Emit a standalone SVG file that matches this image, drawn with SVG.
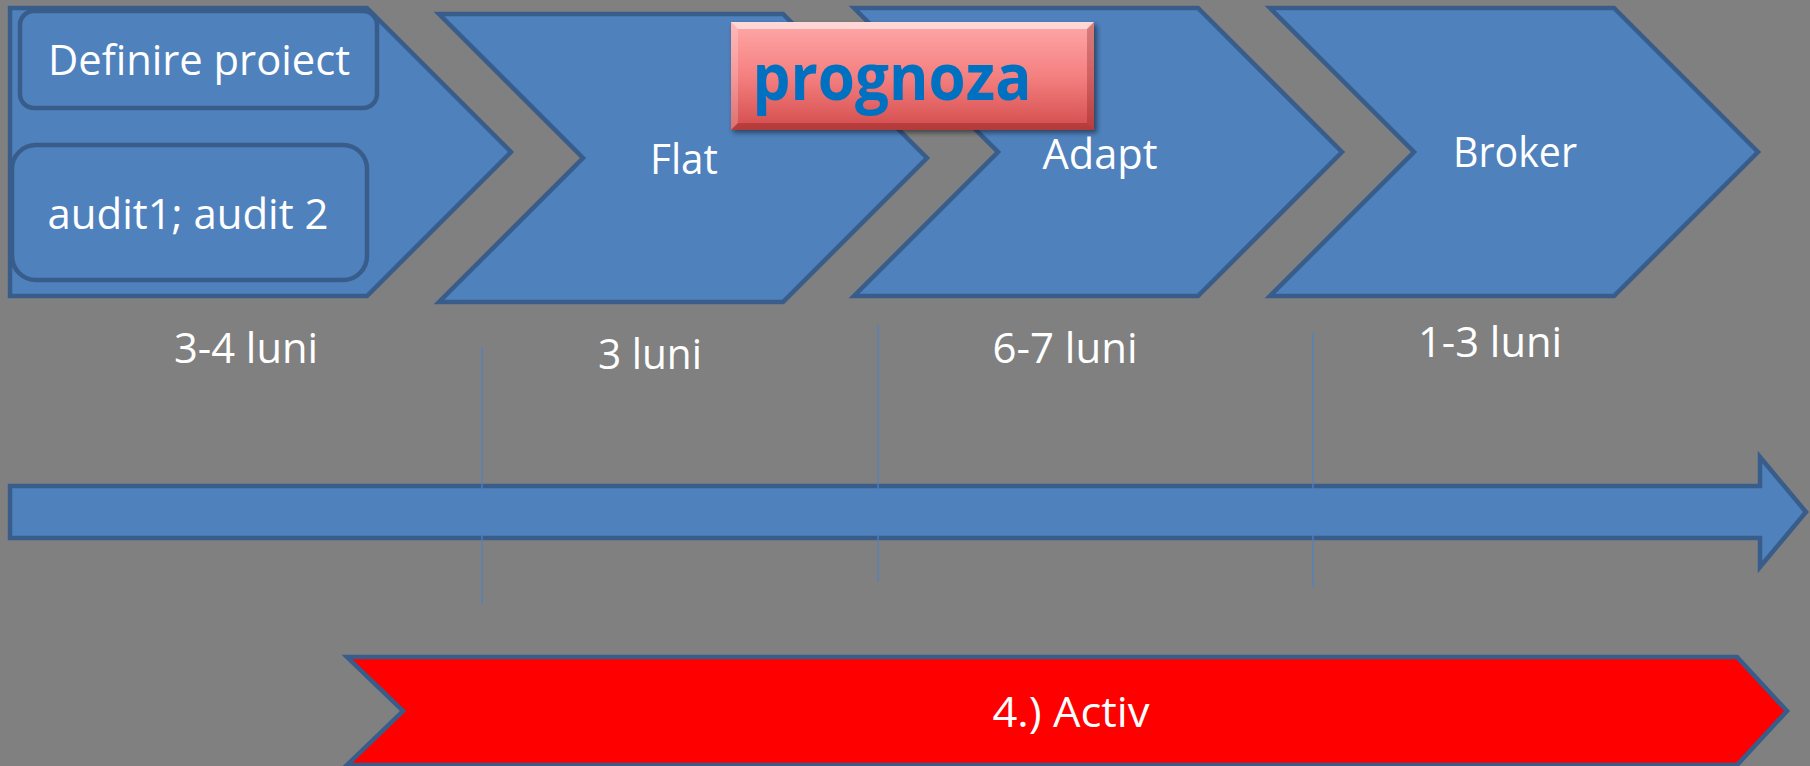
<svg xmlns="http://www.w3.org/2000/svg" width="1810" height="766" viewBox="0 0 1810 766">
<defs>
<style>
.chev{fill:#4f81bd;stroke:#385d8a;stroke-width:4.5;stroke-linejoin:miter}
.sub{fill:#4f81bd;stroke:#385d8a;stroke-width:4.5}
.t{font-family:"Open Sans","Liberation Sans",sans-serif;font-size:42px;fill:#ffffff}
.vl{stroke:#4f81bd;stroke-width:1.3}
.pg{font-family:"Open Sans","Liberation Sans",sans-serif;font-weight:bold;font-size:64px;fill:#0070c0}
</style>
<linearGradient id="red" x1="0" y1="0" x2="0" y2="1">
<stop offset="0" stop-color="#ffa8a8"/>
<stop offset="0.5" stop-color="#f48080"/>
<stop offset="1" stop-color="#d44c4c"/>
</linearGradient>
<filter id="sh" x="-10%" y="-10%" width="120%" height="130%">
<feGaussianBlur stdDeviation="2.5"/>
</filter>
</defs>
<rect x="0" y="0" width="1810" height="766" fill="#808080"/>

<g id="step1">
<polygon class="chev" points="10,8 367,8 511,152 367,296 10,296"/>
<g id="definire">
<rect class="sub" x="20" y="11" width="357" height="97" rx="14"/>
<text class="t" x="199" y="75" text-anchor="middle" textLength="302" lengthAdjust="spacingAndGlyphs">Definire proiect</text>
</g>
<g id="audit">
<rect class="sub" x="12" y="145" width="355" height="135" rx="24"/>
<text class="t" x="188" y="229" text-anchor="middle" textLength="281" lengthAdjust="spacingAndGlyphs">audit1; audit 2</text>
</g>
</g>

<g id="flat">
<polygon class="chev" points="439,14 783,14 927,158 783,302 439,302 583,158"/>
<text class="t" x="684" y="174" text-anchor="middle" textLength="68" lengthAdjust="spacingAndGlyphs">Flat</text>
</g>

<g id="adapt">
<polygon class="chev" points="854,8 1198,8 1342,152 1198,296 854,296 998,152"/>
<text class="t" x="1100" y="169" text-anchor="middle" textLength="115" lengthAdjust="spacingAndGlyphs">Adapt</text>
</g>

<g id="broker">
<polygon class="chev" points="1270,8 1614,8 1758,152 1614,296 1270,296 1414,152"/>
<text class="t" x="1515" y="167" text-anchor="middle" textLength="124" lengthAdjust="spacingAndGlyphs">Broker</text>
</g>

<g id="prognoza">
<rect x="733" y="25" width="364" height="108" fill="#000" opacity="0.45" filter="url(#sh)"/>
<rect x="731" y="22" width="363" height="108" fill="url(#red)"/>
<polygon points="731,22 1094,22 1087,29 738,29" fill="#ffffff" opacity="0.55"/>
<polygon points="731,22 738,29 738,123 731,130" fill="#ffffff" opacity="0.2"/>
<polygon points="1094,22 1094,130 1087,123 1087,29" fill="#7a1a1a" opacity="0.3"/>
<polygon points="731,130 738,123 1087,123 1094,130" fill="#7a1a1a" opacity="0.35"/>
<text class="pg" x="892" y="100" text-anchor="middle" textLength="279" lengthAdjust="spacingAndGlyphs">prognoza</text>
</g>

<g id="durations">
<text class="t" x="246" y="363" text-anchor="middle" textLength="144" lengthAdjust="spacingAndGlyphs">3-4 luni</text>
<text class="t" x="650" y="369" text-anchor="middle" textLength="104" lengthAdjust="spacingAndGlyphs">3 luni</text>
<text class="t" x="1065" y="363" text-anchor="middle" textLength="145" lengthAdjust="spacingAndGlyphs">6-7 luni</text>
<text class="t" x="1490" y="357" text-anchor="middle" textLength="144" lengthAdjust="spacingAndGlyphs">1-3 luni</text>
</g>

<g id="timeline">
<polygon class="chev" points="10,486 1760,486 1760,457 1806,512 1760,567 1760,538 10,538"/>
</g>

<g id="connectors">
<line class="vl" x1="482" y1="347" x2="482" y2="604"/>
<line class="vl" x1="878" y1="325" x2="878" y2="582"/>
<line class="vl" x1="1313" y1="333" x2="1313" y2="588"/>
</g>

<g id="activ">
<polygon points="347,657 1737,657 1787,711 1737,765 347,765 403,711" fill="#ff0000" stroke="#385d8a" stroke-width="4.5"/>
<text class="t" x="1071" y="727" text-anchor="middle" textLength="157" lengthAdjust="spacingAndGlyphs">4.) Activ</text>
</g>
</svg>
